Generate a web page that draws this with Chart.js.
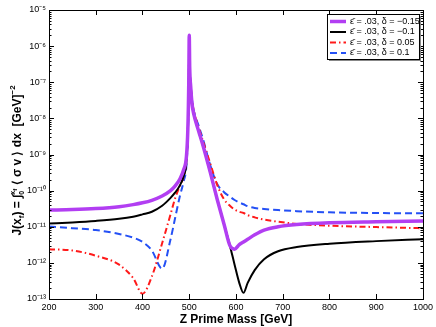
<!DOCTYPE html>
<html>
<head>
<meta charset="utf-8">
<script src="https://cdn.jsdelivr.net/npm/chart.js@4"></script>
<style>
  html, body { margin: 0; padding: 0; background: #fff; }
  canvas { display: block; }
</style>
</head>
<body>
<canvas id="chart" width="436" height="327"></canvas>
<script>
const masses = [200, 250, 300, 350, 380, 400, 420, 442, 460, 470, 480, 488, 494, 497, 499, 500, 501, 503, 506, 510,
    520, 530, 545, 560, 575, 587, 597, 607, 616, 625, 640, 660, 690, 730, 800, 900, 1000];

const deltaM015 = [2.9e-11, 3.0e-11, 3.2e-11, 3.6e-11, 4.1e-11, 4.6e-11, 5.4e-11, 7.1e-11, 1.0e-10, 1.35e-10, 2.1e-10, 3.8e-10, 8.9e-10, 5.0e-9, 1.0e-7, 2.0e-6, 2.5e-7, 7.9e-8, 2.5e-8, 1.26e-8,
    4.5e-9, 1.66e-9, 3.2e-10, 5.6e-11, 1.1e-11, 3.0e-12, 2.4e-12, 3.2e-12, 3.8e-12, 4.5e-12, 6.0e-12, 8.1e-12, 1.0e-11, 1.15e-11, 1.29e-11, 1.38e-11, 1.45e-11];

const deltaM010 = [1.23e-11, 1.32e-11, 1.45e-11, 1.66e-11, 1.9e-11, 2.2e-11, 2.6e-11, 3.8e-11, 6.3e-11, 8.9e-11, 1.4e-10, 2.5e-10, 6.3e-10, 4.0e-9, 7.9e-8, 2.0e-6, 2.5e-7, 7.9e-8, 2.5e-8, 1.26e-8,
    4.5e-9, 1.66e-9, 3.2e-10, 5.6e-11, 1.1e-11, 3.0e-12, 8.9e-13, 2.8e-13, 1.48e-13, 2.8e-13, 6.3e-13, 1.26e-12, 2.1e-12, 2.75e-12, 3.4e-12, 4.0e-12, 4.5e-12];

const delta005 = [2.4e-12, 2.2e-12, 1.58e-12, 8.9e-13, 3.8e-13, 1.4e-13, 4.2e-13, 3.5e-12, 2.2e-11, 6.3e-11, 1.35e-10, 2.5e-10, 7.1e-10, 5.0e-9, 1.0e-7, 2.0e-6, 2.5e-7, 8.9e-8, 3.2e-8, 1.58e-8,
    5.6e-9, 2.2e-9, 5.6e-10, 1.41e-10, 5.6e-11, 3.8e-11, 3.0e-11, 2.6e-11, 2.4e-11, 2.1e-11, 1.82e-11, 1.58e-11, 1.38e-11, 1.2e-11, 1.07e-11, 9.8e-12, 9.1e-12];

const delta010 = [1.02e-11, 9.1e-12, 8.1e-12, 6.3e-12, 5.0e-12, 3.8e-12, 2.2e-12, 6.9e-13, 4.5e-12, 1.8e-11, 7.1e-11, 1.8e-10, 5.0e-10, 3.2e-9, 6.3e-8, 2.0e-6, 2.5e-7, 8.9e-8, 3.2e-8, 1.58e-8,
    6.3e-9, 2.5e-9, 5.0e-10, 1.5e-10, 8.9e-11, 6.8e-11, 5.5e-11, 4.7e-11, 4.2e-11, 3.7e-11, 3.3e-11, 3.1e-11, 2.9e-11, 2.7e-11, 2.5e-11, 2.4e-11, 2.35e-11];

const seriesLabels = [
    "\u03b5\u0304 = .03, \u03b4 = \u22120.15",
    "\u03b5\u0304 = .03, \u03b4 = \u22120.1",
    "\u03b5\u0304 = .03, \u03b4 = 0.05",
    "\u03b5\u0304 = .03, \u03b4 = 0.1",
];

const yTickValues = [1e-13, 1e-12, 1e-11, 1e-10, 1e-9, 1e-8, 1e-7, 1e-6, 1e-5];
const yTickLabels = ["10\u207b\u00b9\u00b3", "10\u207b\u00b9\u00b2", "10\u207b\u00b9\u00b9", "10\u207b\u00b9\u2070", "10\u207b\u2079",
    "10\u207b\u2078", "10\u207b\u2077", "10\u207b\u2076", "10\u207b\u2075"];

const FONT = "'Liberation Sans', Arial, Helvetica, sans-serif";

const pts = vals => masses.map((m, i) => ({ x: m, y: vals[i] }));

const styles = [
    { color: "#b23ef2", width: 3.5, dash: [] },
    { color: "#000000", width: 2, dash: [] },
    { color: "#ff1a1a", width: 2, dash: [6, 3, 1.5, 3] },
    { color: "#2450f5", width: 2, dash: [7, 4] },
];

const frame = {
    id: "frame",
    afterDraw(chart) {
        const ctx = chart.ctx;
        const a = chart.chartArea;
        const xs = chart.scales.x, ys = chart.scales.y;
        ctx.save();
        ctx.strokeStyle = "#000";
        ctx.lineWidth = 1;
        ctx.setLineDash([]);
        ctx.strokeRect(a.left + 0.5, a.top + 0.5, a.right - a.left, a.bottom - a.top);
        ctx.beginPath();
        xs.ticks.forEach(t => {
            const p = Math.round(xs.getPixelForValue(t.value)) + 0.5;
            ctx.moveTo(p, a.bottom); ctx.lineTo(p, a.bottom - 5);
            ctx.moveTo(p, a.top); ctx.lineTo(p, a.top + 5);
        });
        for (let e = -13; e <= -5; e++) {
            for (let m = 1; m <= 9; m++) {
                const v = m * Math.pow(10, e);
                if (v > 1.0001e-5) continue;
                const p = Math.round(ys.getPixelForValue(v)) + 0.5;
                const len = m === 1 ? 5 : 2.5;
                ctx.moveTo(a.left, p); ctx.lineTo(a.left + len, p);
                ctx.moveTo(a.right, p); ctx.lineTo(a.right - len, p);
            }
        }
        ctx.stroke();

        // legend
        const bx = a.right - 96, by = a.top + 4, bw = 92, bh = 45;
        ctx.fillStyle = "#888";
        ctx.fillRect(bx + 2, by + 2, bw, bh);
        ctx.fillStyle = "#fff";
        ctx.fillRect(bx, by, bw, bh);
        ctx.strokeRect(bx + 0.5, by + 0.5, bw, bh);
        ctx.font = "9px " + FONT;
        ctx.textBaseline = "middle";
        chart.data.datasets.forEach((ds, i) => {
            const yy = by + 7.5 + i * 10.5;
            ctx.strokeStyle = ds.borderColor;
            ctx.lineWidth = ds.borderWidth;
            ctx.setLineDash(ds.borderDash);
            ctx.beginPath();
            ctx.moveTo(bx + 3, yy); ctx.lineTo(bx + 19, yy);
            ctx.stroke();
            ctx.fillStyle = "#000";
            ctx.fillText(ds.label, bx + 23, yy);
        });
        ctx.setLineDash([]);

        // y axis title
        ctx.translate(21, (a.top + a.bottom) / 2 + 6);
        ctx.rotate(-Math.PI / 2);
        ctx.fillStyle = "#000";
        ctx.textBaseline = "alphabetic";
        const pieces = [
            ["J(x", 12, 0, true], ["f", 8, 3, true], [") = \u222b", 12, 0, true],
            ["0", 7, 3, false], ["x", 7, -6, true], ["f", 6, -4, true],
            [" \u27e8 \u03c3 v \u27e9 dx  [GeV]", 12, 0, true], ["\u22122", 8, -6, true],
        ];
        let total = 0;
        pieces.forEach(p => { ctx.font = "bold " + p[1] + "px " + FONT; if (p[3]) total += ctx.measureText(p[0]).width; });
        let cx = -total / 2;
        pieces.forEach(p => {
            ctx.font = "bold " + p[1] + "px " + FONT;
            ctx.fillText(p[0], cx, p[2]);
            if (p[3]) cx += ctx.measureText(p[0]).width;
        });
        ctx.restore();
    }
};

new Chart(document.getElementById("chart").getContext("2d"), {
    type: "line",
    data: {
        datasets: [deltaM015, deltaM010, delta005, delta010].map((vals, i) => ({
            label: seriesLabels[i],
            data: pts(vals),
            borderColor: styles[i].color,
            borderWidth: styles[i].width,
            borderDash: styles[i].dash,
            pointRadius: 0,
            fill: false,
            cubicInterpolationMode: "monotone",
        })),
    },
    options: {
        responsive: false,
        animation: false,
        devicePixelRatio: 1,
        layout: { padding: { top: 10, right: 13, left: 0, bottom: 0 } },
        plugins: { legend: { display: false }, tooltip: { enabled: false } },
        scales: {
            x: {
                type: "linear",
                min: 200,
                max: 1000,
                grid: { display: false, drawTicks: false, tickLength: 0 },
                border: { display: false },
                ticks: { stepSize: 100, color: "#000", font: { size: 9, family: FONT }, padding: 3, maxRotation: 0, callback: v => String(v) },
                title: { display: true, text: "Z Prime Mass [GeV]", color: "#000", font: { size: 12, weight: "bold", family: FONT }, padding: 0 },
                afterFit: s => { s.height = 28; },
            },
            y: {
                type: "logarithmic",
                min: 1e-13,
                max: 1e-5,
                grid: { display: false, drawTicks: false, tickLength: 0 },
                border: { display: false },
                afterBuildTicks: s => { s.ticks = yTickValues.map(v => ({ value: v })); },
                ticks: {
                    color: "#000",
                    font: { size: 9, family: FONT },
                    padding: 3,
                    callback: v => yTickLabels[yTickValues.findIndex(t => Math.abs(t - v) / t < 1e-6)],
                },
                afterFit: s => { s.width = 49; },
            },
        },
    },
    plugins: [frame],
});
</script>
</body>
</html>
